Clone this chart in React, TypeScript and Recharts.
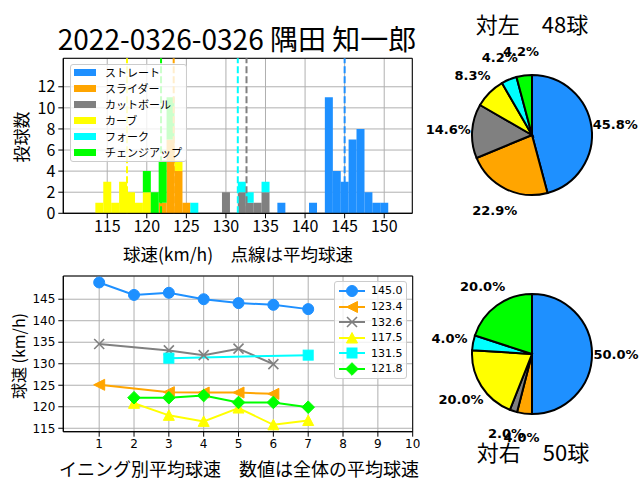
import React from 'react';
import {
  BarChart, Bar, XAxis, YAxis, CartesianGrid, ReferenceLine, ReferenceArea,
  LineChart, Line, PieChart, Pie, Cell, Legend,
} from 'recharts';

// ---------- data ----------
const pitchNames = ['ストレート', 'スライダー', 'カットボール', 'カーブ', 'フォーク', 'チェンジアップ'];
const pitchKeys = ['straight', 'slider', 'cutball', 'curve', 'fork', 'changeup'];
const pitchColors = ['#1E90FF', '#FFA500', '#808080', '#FFFF00', '#00FFFF', '#00FF00'];
const meanSpeeds = [145.0, 123.4, 132.6, 117.5, 131.5, 121.8];

const straightSpeeds = [137, 141, 143, 144, 145, 146, 147, 148, 149, 150];
const straightCounts = [1, 1, 11, 4, 3, 7, 8, 2, 1, 1];
const sliderSpeeds = [122, 123, 124, 125];
const sliderCounts = [1, 7, 4, 1];
const cutballSpeeds = [130, 132, 133, 134, 135];
const cutballCounts = [2, 2, 1, 1, 2];
const curveSpeeds = [114, 115, 116, 117, 118, 119, 120, 124];
const curveCounts = [1, 3, 1, 3, 2, 1, 2, 1];
const forkSpeeds = [126, 132, 133, 135];
const forkCounts = [1, 1, 1, 1];
const changeupSpeeds = [120, 121, 122, 123];
const changeupCounts = [2, 2, 4, 4];

const histXTicks = [115, 120, 125, 130, 135, 140, 145, 150];
const histYTicks = [0, 2, 4, 6, 8, 10, 12];

const straightInnings = [1, 2, 3, 4, 5, 6, 7];
const straightByInning = [148.9, 146.0, 146.5, 145.0, 144.1, 143.7, 142.7];
const sliderInnings = [1, 3, 4, 5, 6];
const sliderByInning = [125.1, 123.4, 123.3, 123.3, 123.0];
const cutballInnings = [1, 3, 4, 5, 6];
const cutballByInning = [134.6, 133.1, 132.0, 133.5, 129.9];
const curveInnings = [2, 3, 4, 5, 6, 7];
const curveByInning = [120.8, 118.0, 116.6, 119.7, 115.8, 116.8];
const forkInnings = [3, 7];
const forkByInning = [131.3, 132.0];
const changeupInnings = [2, 3, 4, 5, 6, 7];
const changeupByInning = [122.1, 122.1, 122.6, 121.0, 121.0, 119.9];

const inningTicks = [1, 2, 3, 4, 5, 6, 7, 8, 9, 10];
const lineYTicks = [115, 120, 125, 130, 135, 140, 145];

const leftCounts = [22, 11, 7, 4, 2, 2];
const rightCounts = [25, 2, 1, 10, 2, 10];

// ---------- derived tables ----------
const histSources = [
  [straightSpeeds, straightCounts],
  [sliderSpeeds, sliderCounts],
  [cutballSpeeds, cutballCounts],
  [curveSpeeds, curveCounts],
  [forkSpeeds, forkCounts],
  [changeupSpeeds, changeupCounts],
];
const allBins = Array.from(new Set(histSources.flatMap(([s]) => s))).sort((a, b) => a - b);
const histData = allBins.map((speed) => {
  const row: any = { speed };
  histSources.forEach(([s, c], i) => {
    const k = s.indexOf(speed);
    row[pitchKeys[i]] = k >= 0 ? c[k] : 0;
  });
  return row;
});

const lineSources = [
  [straightInnings, straightByInning],
  [sliderInnings, sliderByInning],
  [cutballInnings, cutballByInning],
  [curveInnings, curveByInning],
  [forkInnings, forkByInning],
  [changeupInnings, changeupByInning],
];
const lineData = lineSources.map(([inn, v]) => inn.map((x, i) => ({ inning: x, v: v[i] })));

const sum = (a: number[]) => a.reduce((p, c) => p + c, 0);
const leftPie = pitchNames.map((n, i) => ({ name: n, value: leftCounts[i] }));
const rightPie = pitchNames.map((n, i) => ({ name: n, value: rightCounts[i] }));

const markerKinds = ['circle', 'triLeft', 'x', 'triUp', 'square', 'diamond'];

// ---------- helpers ----------
const JP = "'Noto Sans CJK JP', 'DejaVu Sans', sans-serif";

function Txt({ x, y, size, children, rotate = 0, weight = 400, family = JP }: any) {
  return (
    <div
      style={{
        position: 'absolute', left: x, top: y, fontSize: size, fontFamily: family, fontWeight: weight,
        transform: `translate(-50%, -50%) rotate(${rotate}deg)`, whiteSpace: 'pre', lineHeight: 1,
        color: '#000',
      }}
    >
      {children}
    </div>
  );
}

function Marker({ kind, cx, cy, color }: any) {
  if (cx == null || cy == null) return null;
  switch (kind) {
    case 'circle':
      return <circle cx={cx} cy={cy} r={5.5} fill={color} stroke={color} />;
    case 'triLeft':
      return <polygon points={`${cx - 5.5},${cy} ${cx + 5.5},${cy - 5.5} ${cx + 5.5},${cy + 5.5}`} fill={color} stroke={color} />;
    case 'x':
      return (
        <g stroke={color} strokeWidth={1.6}>
          <line x1={cx - 5} y1={cy - 5} x2={cx + 5} y2={cy + 5} />
          <line x1={cx - 5} y1={cy + 5} x2={cx + 5} y2={cy - 5} />
        </g>
      );
    case 'triUp':
      return <polygon points={`${cx},${cy - 5.5} ${cx - 5.5},${cy + 5} ${cx + 5.5},${cy + 5}`} fill={color} stroke={color} />;
    case 'square':
      return <rect x={cx - 5} y={cy - 5} width={10} height={10} fill={color} stroke={color} />;
    case 'diamond':
      return <polygon points={`${cx},${cy - 6.3} ${cx + 6.3},${cy} ${cx},${cy + 6.3} ${cx - 6.3},${cy}`} fill={color} stroke={color} />;
    default:
      return null;
  }
}

function HistLegend() {
  return (
    <div
      style={{
        position: 'relative', width: 117, height: 98, background: 'rgba(255,255,255,0.8)',
        border: '1px solid #cccccc', borderRadius: 3, boxSizing: 'border-box',
      }}
    >
      {pitchNames.map((n, i) => (
        <div key={n} style={{ position: 'absolute', left: 0, top: 7.4 + 16 * i - 6, height: 12, display: 'flex', alignItems: 'center', whiteSpace: 'nowrap' }}>
          <div style={{ marginLeft: 3, width: 22, height: 7.5, background: pitchColors[i], flex: 'none' }} />
          <span style={{ marginLeft: 9, fontSize: 11, fontFamily: JP, color: '#000', lineHeight: 1, whiteSpace: 'nowrap' }}>{n}</span>
        </div>
      ))}
    </div>
  );
}

function LineLegend() {
  return (
    <div
      style={{
        position: 'relative', width: 73, height: 98, background: 'rgba(255,255,255,0.8)',
        border: '1px solid #cccccc', borderRadius: 3, boxSizing: 'border-box',
      }}
    >
      {meanSpeeds.map((m, i) => (
        <div key={i} style={{ position: 'absolute', left: 0, top: 9.3 + 15.6 * i - 7, height: 14, display: 'flex', alignItems: 'center', whiteSpace: 'nowrap' }}>
          <svg width={30} height={14} style={{ marginLeft: 3, flex: 'none' }}>
            <line x1={1} y1={7} x2={27} y2={7} stroke={pitchColors[i]} strokeWidth={2} />
            <Marker kind={markerKinds[i]} cx={14} cy={7} color={pitchColors[i]} />
          </svg>
          <span style={{ marginLeft: 3, fontSize: 11, fontFamily: "'DejaVu Sans', sans-serif", color: '#000', lineHeight: 1 }}>
            {m.toFixed(1)}
          </span>
        </div>
      ))}
    </div>
  );
}

const RAD = Math.PI / 180;
function pctLabel(props: any) {
  const { cx, cy, midAngle, percent, index } = props;
  const R = 84;
  const x = cx + R * Math.cos(-midAngle * RAD);
  const y = cy + R * Math.sin(-midAngle * RAD);
  return (
    <text
      key={`l-${index}`} x={x} y={y} textAnchor="middle" dominantBaseline="central"
      fontFamily="'DejaVu Sans', sans-serif" fontWeight="bold" fontSize={13} fill="#000"
    >
      {`${(percent * 100).toFixed(1)}%`}
    </text>
  );
}

const PIE_W = 220;
const PIE_H = 210;
function PitchPie({ data }: any) {
  return (
    <PieChart width={PIE_W} height={PIE_H} margin={{ top: 0, right: 0, bottom: 0, left: 0 }}>
      <Pie
        data={data} dataKey="value" nameKey="name" cx={112} cy={105} outerRadius={60}
        startAngle={90} endAngle={-270} stroke="#000" strokeWidth={2}
        label={pctLabel} labelLine={false} isAnimationActive={false}
      >
        {data.map((d: any, i: number) => (
          <Cell key={d.name} fill={pitchColors[i]} stroke="#000" strokeWidth={2} />
        ))}
      </Pie>
    </PieChart>
  );
}

const HIST_X = [109.45, 153.55];
const HIST_Y = [0, 14.7];
const LINE_X = [-0.03, 10];
const LINE_Y = [114.2, 150.4];

const tickStyle16 = { fill: '#000', fontSize: 16, fontFamily: JP };
const tickStyle12 = { fill: '#000', fontSize: 12, fontFamily: "'DejaVu Sans', sans-serif" };

export default function App() {
  return (
    <div style={{ position: 'absolute', left: 0, top: 0, width: 640, height: 480, background: '#fff', overflow: 'hidden' }}>
      {/* Histogram */}
      <div style={{ position: 'absolute', left: 0, top: 0 }}>
        <BarChart
          width={420} height={260} data={histData}
          margin={{ top: 58.3, right: 7.7, bottom: 16.7, left: 23.3 }}
          barCategoryGap={0} barGap={0}
        >
          <CartesianGrid stroke="#b0b0b0" strokeWidth={1} />
          <XAxis
            type="number" dataKey="speed" domain={HIST_X} ticks={histXTicks} allowDataOverflow
            height={30} tick={tickStyle16} tickSize={5} tickMargin={2}
            stroke="#000" axisLine={{ stroke: '#000' }} tickLine={{ stroke: '#000' }} interval={0}
          />
          <YAxis
            type="number" domain={HIST_Y} ticks={histYTicks} allowDataOverflow width={40}
            tick={tickStyle16} tickSize={5} tickMargin={3}
            axisLine={{ stroke: '#000' }} tickLine={{ stroke: '#000' }} interval={0}
          />
          {pitchKeys.map((k, i) => (
            <Bar key={k} dataKey={k} stackId="h" fill={pitchColors[i]} isAnimationActive={false} />
          ))}
          {meanSpeeds.map((m, i) => (
            <ReferenceLine key={`m${i}`} x={m} stroke={pitchColors[i]} strokeWidth={2} strokeDasharray="7 3" />
          ))}
          <ReferenceArea x1={HIST_X[0]} x2={HIST_X[1]} y1={HIST_Y[0]} y2={HIST_Y[1]} fill="none" fillOpacity={0} stroke="#000" strokeWidth={1} />
          <Legend
            layout="vertical" align="center" verticalAlign="middle"
            wrapperStyle={{ left: 70, top: 64.3, width: 117, height: 98 }}
            content={() => <HistLegend />}
          />
        </BarChart>
      </div>

      {/* Line chart */}
      <div style={{ position: 'absolute', left: 0, top: 260 }}>
        <LineChart width={420} height={220} margin={{ top: 16, right: 7.3, bottom: 18.3, left: 23.3 }}>
          <CartesianGrid stroke="#b0b0b0" strokeWidth={1} />
          <XAxis
            type="number" dataKey="inning" domain={LINE_X} ticks={inningTicks} allowDataOverflow
            height={30} tick={tickStyle12} tickSize={5} tickMargin={3}
            axisLine={{ stroke: '#000' }} tickLine={{ stroke: '#000' }} interval={0}
          />
          <YAxis
            type="number" domain={LINE_Y} ticks={lineYTicks} allowDataOverflow width={40}
            tick={tickStyle12} tickSize={5} tickMargin={3}
            axisLine={{ stroke: '#000' }} tickLine={{ stroke: '#000' }} interval={0}
          />
          {lineData.map((d, i) => (
            <Line
              key={pitchKeys[i]} data={d} dataKey="v" type="linear" stroke={pitchColors[i]} strokeWidth={2}
              isAnimationActive={false}
              dot={(p: any) => <Marker key={`${i}-${p.index}`} kind={markerKinds[i]} cx={p.cx} cy={p.cy} color={pitchColors[i]} />}
              activeDot={false}
            />
          ))}
          <ReferenceArea x1={LINE_X[0]} x2={LINE_X[1]} y1={LINE_Y[0]} y2={LINE_Y[1]} fill="none" fillOpacity={0} stroke="#000" strokeWidth={1} />
          <Legend
            layout="vertical" align="center" verticalAlign="middle"
            wrapperStyle={{ left: 334, top: 20.7, width: 73, height: 98 }}
            content={() => <LineLegend />}
          />
        </LineChart>
      </div>

      {/* Pies */}
      <div style={{ position: 'absolute', left: 420, top: 30 }}>
        <PitchPie data={leftPie} />
      </div>
      <div style={{ position: 'absolute', left: 420, top: 249 }}>
        <PitchPie data={rightPie} />
      </div>

      {/* Texts */}
      <Txt x={237} y={38} size={28}>2022-0326-0326 隅田 知一郎</Txt>
      <Txt x={532} y={23} size={22}>{`対左　${sum(leftCounts)}球`}</Txt>
      <Txt x={533} y={451} size={22}>{`対右　${sum(rightCounts)}球`}</Txt>
      <Txt x={20} y={137} size={17} rotate={-90}>投球数</Txt>
      <Txt x={238} y={254} size={17.5}>球速(km/h)　点線は平均球速</Txt>
      <Txt x={18} y={356} size={16} rotate={-90}>球速 (km/h)</Txt>
      <Txt x={239} y={468} size={18}>イニング別平均球速　数値は全体の平均球速</Txt>
    </div>
  );
}
